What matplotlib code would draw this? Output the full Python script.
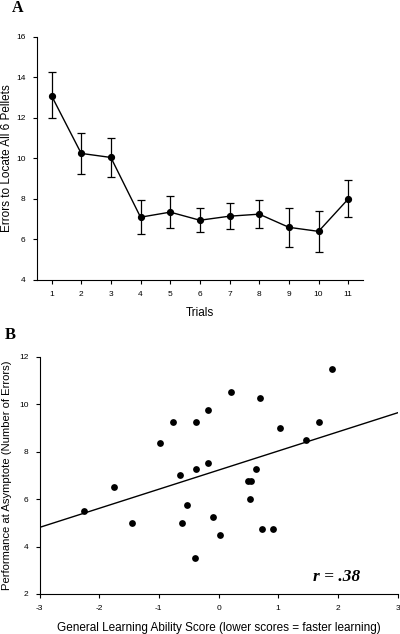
import matplotlib
matplotlib.use("Agg")
import matplotlib.pyplot as plt
import numpy as np

plt.rcParams['font.family'] = ['Liberation Sans', 'DejaVu Sans']
plt.rcParams['axes.unicode_minus'] = False

# Panel A data
trials = [1, 2, 3, 4, 5, 6, 7, 8, 9, 10, 11]
mean_errors = [13.1, 10.25, 10.05, 7.1, 7.35, 6.95, 7.15, 7.25, 6.6, 6.4, 8.0]
err_upper = [14.25, 11.25, 11.0, 7.95, 8.15, 7.55, 7.8, 7.95, 7.55, 7.4, 8.95]
err_lower = [12.0, 9.25, 9.1, 6.25, 6.55, 6.35, 6.5, 6.55, 5.65, 5.4, 7.1]

# Panel B data
learning_score = [-2.25, -1.75, -1.45, -0.975, -0.76, -0.38, -0.17, -0.65, -0.37,
                  -0.17, -0.53, -0.61, -0.10, 0.02, -0.40, 1.91, 0.21, 0.70, 1.03,
                  1.69, 1.46, 0.63, 0.49, 0.55, 0.52, 0.73, 0.92]
asymptote = [5.5, 6.5, 5.0, 8.35, 9.25, 9.25, 9.75, 7.0, 7.25,
             7.5, 5.75, 5.0, 5.25, 4.5, 3.5, 11.5, 10.5, 10.25, 9.0,
             9.25, 8.5, 7.25, 6.75, 6.75, 6.0, 4.75, 4.75]
fit_slope = 0.805
fit_intercept = 7.22
r_text = "r = .38"

fig = plt.figure(figsize=(4.0, 6.34), dpi=100)

# ---------- Panel A ----------
axA = fig.add_axes([0.0917, 0.5584, 0.816, 0.3833])
m = np.array(mean_errors)
yerr = [m - np.array(err_lower), np.array(err_upper) - m]
axA.errorbar(trials, mean_errors, yerr=yerr, fmt='-o', color='black',
             markersize=4.2, linewidth=1.0, elinewidth=0.9, capsize=3,
             capthick=0.9)
axA.set_xlim(0.5, 11.5)
axA.set_ylim(4, 16)
axA.set_xticks(trials)
axA.set_yticks([4, 6, 8, 10, 12, 14, 16])
axA.spines['top'].set_visible(False)
axA.spines['right'].set_visible(False)
axA.tick_params(direction='out', length=3, width=0.8, labelsize=6, pad=5)
axA.set_xlabel('Trials', fontsize=8.5)
axA.xaxis.set_label_coords(0.5, -0.136)
axA.xaxis.label.set_va('center')
axA.set_ylabel('Errors to Locate All 6 Pellets', fontsize=8.5)
axA.yaxis.set_label_coords(-0.091, 0.5)
axA.yaxis.label.set_va('center')
fig.text(0.029, 0.9815, 'A', family=['Liberation Serif', 'DejaVu Serif'],
         fontweight='bold', fontsize=11.5, va='baseline', ha='left')

# ---------- Panel B ----------
axB = fig.add_axes([0.0988, 0.0631, 0.895, 0.3743])
axB.scatter(learning_score, asymptote, s=24, color='black', zorder=3,
            linewidths=0)
xl = np.array([-3, 3])
axB.plot(xl, fit_intercept + fit_slope * xl, color='black', linewidth=1.0)
axB.set_xlim(-3, 3)
axB.set_ylim(2, 12)
axB.set_xticks([-3, -2, -1, 0, 1, 2, 3])
axB.set_yticks([2, 4, 6, 8, 10, 12])
axB.spines['top'].set_visible(False)
axB.spines['right'].set_visible(False)
axB.tick_params(direction='out', length=3, width=0.8, labelsize=6, pad=5)
axB.set_xlabel('General Learning Ability Score (lower scores = faster learning)',
               fontsize=8.5)
axB.xaxis.set_label_coords(0.5, -0.143)
axB.xaxis.label.set_va('center')
axB.set_ylabel('Performance at Asymptote (Number of Errors)', fontsize=8.1)
axB.yaxis.set_label_coords(-0.092, 0.5)
axB.yaxis.label.set_va('center')
axB.text(1.58, 2.72, r_text, family=['Liberation Serif', 'DejaVu Serif'],
         fontweight='bold', fontstyle='italic', fontsize=12.5, va='center',
         ha='left')
fig.text(0.013, 0.4648, 'B', family=['Liberation Serif', 'DejaVu Serif'],
         fontweight='bold', fontsize=12, va='baseline', ha='left')

fig.savefig('out.png', dpi=100)
